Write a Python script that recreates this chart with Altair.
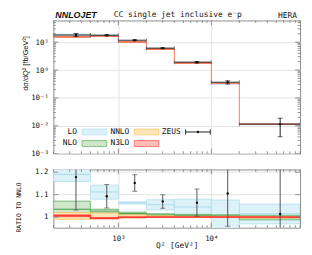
import altair as alt
import pandas as pd

# ---------------- data ----------------
q2_lo = [200, 500, 1000, 2000, 4000, 10000, 20000]
q2_hi = [500, 1000, 2000, 4000, 10000, 20000, 90000]
zeus_q2 = [350, 750, 1500, 3000, 7000, 15000, 55000]

# NNLO cross section per bin [fb/GeV^2]
nnlo_xs = [15.4, 16.2, 10.2, 5.70, 1.80, 0.331, 0.0113]

# everything below is a ratio to NNLO
zeus_r = [1.178, 1.093, 1.152, 1.070, 1.064, 1.105, 1.014]
zeus_r_dn = [1.032, 1.041, 1.115, 1.039, 1.004, 0.959, 0.36]
zeus_r_up = [1.330, 1.145, 1.189, 1.099, 1.125, 1.250, 1.65]

lo_c = [1.190, 1.112, 1.063, 1.055, 1.045, 1.010, 1.015]
lo_dn = [1.158, 1.080, 1.058, 1.032, 1.007, 0.930, 0.970]
lo_up = [1.260, 1.142, 1.068, 1.077, 1.080, 1.076, 1.058]

nlo_c = [1.035, 1.027, 1.016, 1.010, 1.008, 1.006, 0.998]
nlo_dn = [1.017, 1.018, 1.010, 1.006, 1.004, 1.001, 0.988]
nlo_up = [1.071, 1.035, 1.022, 1.015, 1.012, 1.010, 1.008]

nnlo_dn = [0.990, 0.995, 0.997, 0.998, 0.998, 0.998, 0.996]
nnlo_up = [1.020, 1.018, 1.010, 1.006, 1.004, 1.004, 1.003]

n3lo_c = [1.006, 0.995, 0.999, 1.000, 1.000, 1.000, 1.000]
n3lo_dn = [1.002, 0.992, 0.997, 0.999, 0.999, 0.999, 0.998]
n3lo_up = [1.010, 0.998, 1.001, 1.002, 1.002, 1.002, 1.002]

x_major = [1000, 10000]
x_minor = [200, 300, 400, 500, 600, 700, 800, 900,
           2000, 3000, 4000, 5000, 6000, 7000, 8000, 9000,
           20000, 30000, 40000, 50000, 60000, 70000, 80000, 90000]
y_major = [0.001, 0.01, 0.1, 1, 10]
y_minor = [0.002, 0.003, 0.004, 0.005, 0.006, 0.007, 0.008, 0.009,
           0.02, 0.03, 0.04, 0.05, 0.06, 0.07, 0.08, 0.09,
           0.2, 0.3, 0.4, 0.5, 0.6, 0.7, 0.8, 0.9,
           2, 3, 4, 5, 6, 7, 8, 9, 20, 30, 40, 50, 60]
r_major = [1.0, 1.1, 1.2]
r_labels = ["1", "1.1", "1.2"]

# ---------------- tables ----------------
df = pd.DataFrame({"lo": q2_lo, "hi": q2_hi, "xc": zeus_q2, "nnlo": nnlo_xs,
                   "z": zeus_r, "z_dn": zeus_r_dn, "z_up": zeus_r_up,
                   "lo_c": lo_c, "lo_dn": lo_dn, "lo_up": lo_up,
                   "nlo_c": nlo_c, "nlo_dn": nlo_dn, "nlo_up": nlo_up,
                   "nnlo_dn": nnlo_dn, "nnlo_up": nnlo_up,
                   "n3lo_c": n3lo_c, "n3lo_dn": n3lo_dn, "n3lo_up": n3lo_up})
for c in ["z", "z_dn", "z_up", "lo_c", "lo_dn", "lo_up", "nlo_c", "nlo_dn", "nlo_up",
          "nnlo_dn", "nnlo_up", "n3lo_c", "n3lo_dn", "n3lo_up"]:
    df["a_" + c] = df[c] * df["nnlo"]

step = pd.DataFrame({"x": q2_lo + [q2_hi[-1]],
                     "r": n3lo_c + [n3lo_c[-1]],
                     "a": [r * n for r, n in zip(n3lo_c, nnlo_xs)] + [n3lo_c[-1] * nnlo_xs[-1]]})
rdf = pd.DataFrame({"t": r_major, "lab": r_labels})

FONT = "DejaVu Sans Mono"
W, HT, HB = 250, 135, 59
XDOM = [200, 90000]
GRID = "#e4e4e4"

C_LO, C_LO_L = "#ddf1f8", "#a9dbec"
C_NLO, C_NLO_L = "#cfe6ca", "#4aa04a"
C_NNLO, C_NNLO_L = "#fde6b6", "#f4bf55"
C_N3LO, C_N3LO_L = "#ffbdb9", "#ff3c32"

sup = "['⁰','¹','²','³','⁴','⁵'][abs(round(log(datum.value)/LN10))]"
pow_expr = "'10' + (round(log(datum.value)/LN10) < 0 ? '⁻' : '') + " + sup

xs_top = alt.Scale(type="log", domain=XDOM, nice=False)
ys_top = alt.Scale(type="log", domain=[0.001, 60], nice=False)
ys_bot = alt.Scale(domain=[0.953, 1.212], nice=False, zero=False)

base = alt.Chart(df)


def bands(prefix, yscale, fill, line, ax_x=alt.Undefined, ax_y=alt.Undefined):
    return base.mark_rect(fill=fill, stroke=line, strokeWidth=0.7, clip=True).encode(
        x=alt.X("lo:Q", scale=xs_top, axis=ax_x), x2="hi:Q",
        y=alt.Y(prefix + "_dn:Q", scale=yscale, axis=ax_y), y2=prefix + "_up:Q")


def center(field, yscale, color, width=1.0):
    return base.mark_rule(color=color, strokeWidth=width, clip=True).encode(
        x=alt.X("lo:Q", scale=xs_top), x2="hi:Q", y=alt.Y(field + ":Q", scale=yscale))


def ticks_x(h):
    out = []
    for vals, ln in [(x_major, 5), (x_minor, 2.5)]:
        src = alt.Chart(pd.DataFrame({"t": vals}))
        for y0, y1 in [(h, h - ln), (0, ln)]:
            out.append(src.mark_rule(color="#777", strokeWidth=0.8).encode(
                x=alt.X("t:Q", scale=xs_top), y=alt.value(y0), y2=alt.value(y1)))
    return out


def ticks_y(vals_major, vals_minor, yscale):
    out = []
    for vals, ln in [(vals_major, 5), (vals_minor, 2.5)]:
        if not vals:
            continue
        src = alt.Chart(pd.DataFrame({"t": vals}))
        for x0, x1 in [(0, ln), (W, W - ln)]:
            out.append(src.mark_rule(color="#777", strokeWidth=0.8, clip=True).encode(
                y=alt.Y("t:Q", scale=yscale), x=alt.value(x0), x2=alt.value(x1)))
    return out


# ---------------- top panel ----------------
ax_x_top = alt.Axis(labels=False, ticks=False, tickSize=0, domain=False, title=None,
                    grid=True, values=x_major, gridColor=GRID)
ax_y_top = alt.Axis(values=y_major, labelExpr=pow_expr, ticks=False, tickSize=0, domain=False,
                    grid=True, gridColor=GRID, labelPadding=5, labelOverlap=False,
                    title="dσ/dQ² [fb/GeV²]", titleX=-28, titleY=43, titleAngle=-90,
                    titleFont="Liberation Sans", titleFontSize=7.5,
                    titleBaseline="middle", titleAlign="center")

top_layers = [
    bands("a_lo", ys_top, C_LO, C_LO_L, ax_x_top, ax_y_top),
    bands("a_nlo", ys_top, C_NLO, C_NLO_L),
    bands("a_nnlo", ys_top, C_NNLO, C_NNLO_L),
    bands("a_n3lo", ys_top, C_N3LO, C_N3LO_L),
    alt.Chart(step).mark_line(interpolate="step-after", color="#ff7a68", strokeWidth=1,
                              clip=True).encode(
        x=alt.X("x:Q", scale=xs_top), y=alt.Y("a:Q", scale=ys_top)),
    # data: horizontal bin bars with end caps
    base.mark_rule(color="#333", strokeWidth=1, clip=True).encode(
        x=alt.X("lo:Q", scale=xs_top), x2="hi:Q", y=alt.Y("a_z:Q", scale=ys_top)),
    base.mark_tick(orient="vertical", size=4, thickness=1, color="#555", clip=True).encode(
        x=alt.X("lo:Q", scale=xs_top), y=alt.Y("a_z:Q", scale=ys_top)),
    base.mark_tick(orient="vertical", size=4, thickness=1, color="#555", clip=True).encode(
        x=alt.X("hi:Q", scale=xs_top), y=alt.Y("a_z:Q", scale=ys_top)),
    base.mark_rule(color="#222", strokeWidth=1, clip=True).encode(
        x=alt.X("xc:Q", scale=xs_top), y=alt.Y("a_z_dn:Q", scale=ys_top), y2="a_z_up:Q"),
    base.mark_tick(orient="horizontal", size=5, thickness=1, color="#222", clip=True).encode(
        x=alt.X("xc:Q", scale=xs_top), y=alt.Y("a_z_dn:Q", scale=ys_top)),
    base.mark_tick(orient="horizontal", size=5, thickness=1, color="#222", clip=True).encode(
        x=alt.X("xc:Q", scale=xs_top), y=alt.Y("a_z_up:Q", scale=ys_top)),
    base.mark_circle(size=6, color="#111", opacity=1, clip=True).encode(
        x=alt.X("xc:Q", scale=xs_top), y=alt.Y("a_z:Q", scale=ys_top)),
]
top_layers += ticks_x(HT)
top_layers += ticks_y(y_major, y_minor, ys_top)

one = alt.Chart(pd.DataFrame({"k": [0]}))


def txt(s, x, y, align="left", baseline="middle", size=8, **kw):
    return one.mark_text(text=s, font=kw.pop("font", FONT), fontSize=size, align=align,
                         baseline=baseline, color="#111", **kw).encode(
        x=alt.value(x), y=alt.value(y))


def swatch(x0, y0, fill, line):
    return one.mark_rect(fill=fill, stroke=line, strokeWidth=0.6).encode(
        x=alt.value(x0), x2=alt.value(x0 + 25), y=alt.value(y0 - 3), y2=alt.value(y0 + 3))


R1, R2 = 113, 124.7
top_layers += [
    txt("LO", 24, R1, align="right"), swatch(29, R1, C_LO, C_LO_L),
    txt("NNLO", 77, R1, align="right"), swatch(82, R1, C_NNLO, C_NNLO_L),
    txt("ZEUS", 129, R1, align="right"),
    one.mark_rule(color="#222", strokeWidth=1).encode(
        x=alt.value(134), x2=alt.value(159), y=alt.value(R1)),
    one.mark_rule(color="#222", strokeWidth=1).encode(
        x=alt.value(134), y=alt.value(R1 - 2.5), y2=alt.value(R1 + 2.5)),
    one.mark_rule(color="#222", strokeWidth=1).encode(
        x=alt.value(159), y=alt.value(R1 - 2.5), y2=alt.value(R1 + 2.5)),
    one.mark_circle(size=6, color="#111", opacity=1).encode(x=alt.value(146.5), y=alt.value(R1)),
    txt("NLO", 24, R2, align="right"), swatch(29, R2, C_NLO, C_NLO_L),
    txt("N3LO", 77, R2, align="right"), swatch(82, R2, C_N3LO, C_N3LO_L),
    # header
    txt("NNLOJET", 2, -10, baseline="top", size=9, font="Liberation Sans",
        fontStyle="italic", fontWeight="bold"),
    txt("CC single jet inclusive e⁻p", 126, -10, align="center", baseline="top"),
    txt("HERA", 247, -9, align="right", baseline="top"),
]

top = alt.layer(*top_layers).properties(width=W, height=HT)

# ---------------- ratio panel ----------------
ax_x_bot = alt.Axis(values=x_major, labelExpr=pow_expr, ticks=False, tickSize=0, domain=False,
                    grid=True, gridColor=GRID, labelPadding=7, labelOverlap=False,
                    title="Q² [GeV²]", titlePadding=0)
ax_y_bot = alt.Axis(labels=False, ticks=False, tickSize=0, domain=False, grid=False,
                    title="RATIO TO NNLO", titleX=-35, titleY=38, titleFontSize=6.5,
                    titleAngle=-90, titleBaseline="middle", titleAlign="center")

rsrc = alt.Chart(rdf)
bot_layers = [
    rsrc.mark_rule(color=GRID, strokeWidth=1).encode(
        y=alt.Y("t:Q", scale=ys_bot), x=alt.value(0), x2=alt.value(W)),
    rsrc.mark_text(font=FONT, fontSize=7.5, align="right", baseline="middle",
                   color="#111").encode(
        y=alt.Y("t:Q", scale=ys_bot), x=alt.value(-5), text="lab:N"),
    bands("lo", ys_bot, C_LO, C_LO_L, ax_x_bot, ax_y_bot),
    center("lo_c", ys_bot, C_LO_L),
    bands("nlo", ys_bot, C_NLO, C_NLO_L),
    center("nlo_c", ys_bot, C_NLO_L),
    bands("nnlo", ys_bot, C_NNLO, C_NNLO_L),
    bands("n3lo", ys_bot, C_N3LO, C_N3LO_L),
    alt.Chart(step).mark_line(interpolate="step-after", color=C_N3LO_L, strokeWidth=1.5,
                              clip=True).encode(
        x=alt.X("x:Q", scale=xs_top), y=alt.Y("r:Q", scale=ys_bot)),
    base.mark_rule(color="#555", strokeWidth=1, clip=True).encode(
        x=alt.X("xc:Q", scale=xs_top), y=alt.Y("z_dn:Q", scale=ys_bot), y2="z_up:Q"),
    base.mark_tick(orient="horizontal", size=5, thickness=1, color="#555", clip=True).encode(
        x=alt.X("xc:Q", scale=xs_top), y=alt.Y("z_dn:Q", scale=ys_bot)),
    base.mark_tick(orient="horizontal", size=5, thickness=1, color="#555", clip=True).encode(
        x=alt.X("xc:Q", scale=xs_top), y=alt.Y("z_up:Q", scale=ys_bot)),
    base.mark_circle(size=6, color="#111", opacity=1, clip=True).encode(
        x=alt.X("xc:Q", scale=xs_top), y=alt.Y("z:Q", scale=ys_bot)),
]
bot_layers += ticks_x(HB)
bot_layers += ticks_y(r_major, [], ys_bot)

bot = alt.layer(*bot_layers).properties(width=W, height=HB)

chart = alt.vconcat(top, bot, spacing=10).properties(
    padding={"left": 7, "top": 0, "right": 3, "bottom": 0}, background="white"
).configure_view(stroke="#8c8c8c", strokeWidth=1).configure_axis(
    labelFont=FONT, labelFontSize=7.5, labelColor="#111",
    titleFont=FONT, titleFontSize=8, titleFontWeight="normal", titleColor="#111"
)

chart.save("out.html", embed_options={"renderer": "svg", "actions": False})
